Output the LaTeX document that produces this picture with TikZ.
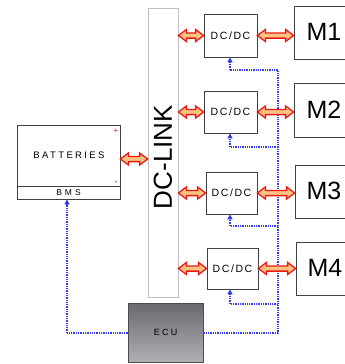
\documentclass[tikz,border=0pt]{standalone}
\usepackage{fontspec}
\setmainfont{Liberation Sans}
\newfontfamily\wideA[LetterSpace=15]{Liberation Sans}
\newfontfamily\wideB[LetterSpace=25]{Liberation Sans}
\newfontfamily\wideC[LetterSpace=35]{Liberation Sans}
\usetikzlibrary{calc,arrows.meta}
\definecolor{busblue}{RGB}{50,60,235}
\definecolor{arrfill}{RGB}{250,195,130}
\definecolor{arred}{RGB}{235,25,20}
\tikzset{
  box/.style={draw=black!75, line width=0.8pt, fill=white},
  conv/.style={box, font=\wideA\fontsize{10.5}{12}\selectfont},
  motor/.style={box, font=\fontsize{25}{28}\selectfont},
  fatarrow/.style={draw=arred, line width=1.3pt, fill=arrfill, line join=miter,
    to path={let \p1=(\tikztostart), \p2=(\tikztotarget) in
      (\x1,\y1) -- (\x1+8pt,\y1+6pt) -- (\x1+8pt,\y1+2.6pt) -- (\x2-8pt,\y1+2.6pt)
      -- (\x2-8pt,\y1+6pt) -- (\x2,\y1) -- (\x2-8pt,\y1-6pt) -- (\x2-8pt,\y1-2.6pt)
      -- (\x1+8pt,\y1-2.6pt) -- (\x1+8pt,\y1-6pt) -- cycle}},
  sig/.style={draw=busblue, line width=1.3pt, densely dotted},
  sigarrow/.style={sig, -{Triangle[length=5pt,width=5pt,fill=busblue]}},
}
\begin{document}
\begin{tikzpicture}[x=1pt,y=-1pt]
\useasboundingbox (0,0) rectangle (345,364);
\begin{scope}
\clip (0,0) rectangle (345,364);
% DC-link bar
\node[draw=black!25, line width=0.8pt, fill=white, minimum width=30pt, minimum height=289pt, inner sep=0pt] (dcl) at (163,152.5) {};
\node[rotate=90, font=\fontsize{26}{28}\selectfont] (dcltext) at (163,157) {DC-LINK};
% batteries
\node[box, minimum width=103pt, minimum height=74pt, inner sep=0pt] (bat) at (68.5,162) {};
\node[font=\wideB\fontsize{9.5}{11}\selectfont] (battext) at (69,155) {BATTERIES};
\coordinate (bmsl) at (17,186);
\coordinate (bmsr) at (120,186);
\draw[black!75, line width=0.8pt] (bmsl) -- (bmsr);
\node[font=\wideC\fontsize{8.5}{10}\selectfont, inner sep=0pt] (bms) at (68.5,192.5) {BMS};
\node[text=arred, font=\fontsize{8}{9}\selectfont, inner sep=0pt] (plus) at (116,131) {+};
\node[font=\fontsize{8}{9}\selectfont, inner sep=0pt] (minus) at (116,183) {-};
% converters
\node[conv, minimum width=53pt, minimum height=43pt, inner sep=0pt] (c1) at (230.5,35.5) {DC/DC};
\node[conv, minimum width=53pt, minimum height=42pt, inner sep=0pt] (c2) at (230.5,112) {DC/DC};
\node[conv, minimum width=51pt, minimum height=42pt, inner sep=0pt] (c3) at (231.5,193) {DC/DC};
\node[conv, minimum width=51pt, minimum height=41pt, inner sep=0pt] (c4) at (232.5,268.5) {DC/DC};
% motors
\node[box, minimum width=60pt, minimum height=53pt, inner sep=0pt] (m1) at (324,32.5) {};
\node[box, minimum width=60pt, minimum height=54pt, inner sep=0pt] (m2) at (324,110) {};
\node[box, minimum width=60pt, minimum height=53pt, inner sep=0pt] (m3) at (325,191.5) {};
\node[box, minimum width=60pt, minimum height=53pt, inner sep=0pt] (m4) at (326,268.5) {};
\node[font=\fontsize{25}{28}\selectfont] (t1) at (324,32) {M1};
\node[font=\fontsize{25}{28}\selectfont] (t2) at (324,110) {M2};
\node[font=\fontsize{25}{28}\selectfont] (t3) at (324,191) {M3};
\node[font=\fontsize{25}{28}\selectfont] (t4) at (325,268) {M4};
% ECU
\node[draw=black!70, line width=0.8pt, top color={rgb,255:red,105;green,105;blue,110}, bottom color={rgb,255:red,175;green,175;blue,180}, minimum width=75pt, minimum height=59pt, inner sep=0pt, font=\wideB\fontsize{9}{11}\selectfont] (ecu) at (165.5,332.5) {ECU};
% signal lines
\coordinate (bus) at (278,333);
\coordinate (b1) at (278,70);
\coordinate (b2) at (278,147);
\coordinate (b3) at (278,226);
\coordinate (b4) at (278,304);
\coordinate (k1) at (230,70);
\coordinate (k2) at (230,147);
\coordinate (k3) at (230,226);
\coordinate (k4) at (230,304);
\coordinate (el) at (67,333);
\draw[sig] (ecu.east |- bus) -- (bus) -- (b1) -- (k1);
\draw[sigarrow] (k1) -- (k1 |- c1.south);
\draw[sig] (b2) -- (k2);
\draw[sigarrow] (k2) -- (k2 |- c2.south);
\draw[sig] (b3) -- (k3);
\draw[sigarrow] (k3) -- (k3 |- c3.south);
\draw[sig] (b4) -- (k4);
\draw[sigarrow] (k4) -- (k4 |- c4.south);
\draw[sig] (ecu.west |- el) -- (el);
\draw[sigarrow] (el) -- (el |- bat.south);
% power arrows
\draw[fatarrow] (bat.east |- 0,159) to (dcl.west |- 0,159);
\draw[fatarrow] (dcl.east |- c1.west) to (c1.west);
\draw[fatarrow] (dcl.east |- c2.west) to (c2.west);
\draw[fatarrow] (dcl.east |- c3.west) to (c3.west);
\draw[fatarrow] (dcl.east |- c4.west) to (c4.west);
\draw[fatarrow] (c1.east) to (c1.east -| m1.west);
\draw[fatarrow] (c2.east) to (c2.east -| m2.west);
\draw[fatarrow] (c3.east) to (c3.east -| m3.west);
\draw[fatarrow] (c4.east) to (c4.east -| m4.west);
\end{scope}
\end{tikzpicture}
\end{document}
